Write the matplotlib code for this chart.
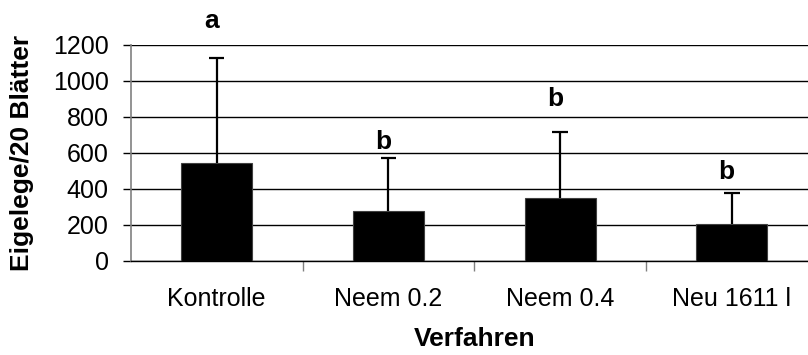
import numpy as np
import matplotlib.pyplot as plt

plt.rcParams['font.family'] = ['Liberation Sans', 'DejaVu Sans']

# treatments, mean egg counts and upper standard deviations
verfahren = ['Kontrolle', 'Neem 0.2', 'Neem 0.4', 'Neu 1611 l']
eigelege = [546, 279, 348, 204]
stdabw = [583, 291, 370, 172]
gruppen = ['a', 'b', 'b', 'b']
gruppen_y = [1335, 663, 900, 494]

fig = plt.figure(figsize=(8.08, 3.55), dpi=100)
ax = fig.add_axes([0.162, 0.265, 0.85, 0.6085])

x = np.arange(len(verfahren))
mittel = np.array(eigelege)
oben = mittel + np.array(stdabw)

ax.set_axisbelow(True)
ax.yaxis.grid(True, color='black', linewidth=1.0)
ax.bar(x, mittel, width=0.414, color='black', edgecolor='#404040', linewidth=0.8,
       zorder=3)
# upper whiskers only
ax.vlines(x, mittel, oben, color='black', linewidth=1.6, zorder=4)
ax.hlines(oben, x - 0.045, x + 0.045, color='black', linewidth=1.6, zorder=4)

for xi, txt, yy in zip(x, gruppen, gruppen_y):
    ax.text(xi - 0.03, yy, txt, ha='center', va='center', fontsize=19, fontweight='bold')

ax.set_xlim(-0.5, 3.5)
ax.set_ylim(0, 1200)
ax.set_yticks(range(0, 1201, 200))
ax.tick_params(axis='y', length=6, width=1, color='black', pad=10, labelsize=18)
ax.set_xticks(x)
ax.set_xticklabels(verfahren, fontsize=18)
ax.tick_params(axis='x', which='major', length=0, pad=19)
ax.set_xticks(np.arange(0.5, 3.5, 1.0), minor=True)
ax.tick_params(axis='x', which='minor', length=7, width=1, color='#808080')

for s in ['top', 'right']:
    ax.spines[s].set_visible(False)
ax.spines['left'].set_color('#808080')
ax.spines['left'].set_linewidth(1.2)
ax.spines['bottom'].set_color('black')
ax.spines['bottom'].set_linewidth(1.0)

ax.set_ylabel('Eigelege/20 Blätter', fontsize=19, fontweight='bold')
ax.yaxis.set_label_coords(-0.141, 0.5)
ax.set_xlabel('Verfahren', fontsize=19, fontweight='bold')
ax.xaxis.set_label_coords(0.5, -0.305)

fig.savefig('out.png', dpi=100)
